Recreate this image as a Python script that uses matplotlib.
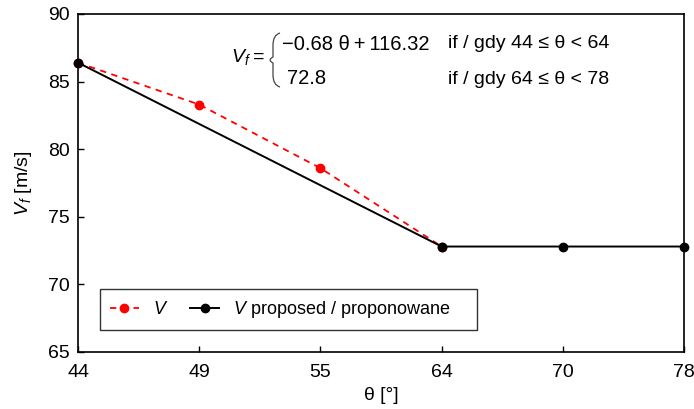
import matplotlib
matplotlib.use("Agg")
import matplotlib.pyplot as plt
from matplotlib.path import Path
from matplotlib.patches import PathPatch
import numpy as np

plt.rcParams['font.family'] = ['Liberation Sans', 'DejaVu Sans']
plt.rcParams['mathtext.fontset'] = 'custom'
plt.rcParams['mathtext.rm'] = 'Liberation Sans'
plt.rcParams['mathtext.it'] = 'Liberation Sans:italic'
plt.rcParams['font.size'] = 14

# data
theta_labels = ['44', '49', '55', '64', '70', '78']
v_idx = [0, 1, 2, 3]
v_vals = [86.4, 83.3, 78.6, 72.8]
vp_idx = [0, 3, 4, 5]
vp_vals = [86.4, 72.8, 72.8, 72.8]

W, H = 694, 409
fig = plt.figure(figsize=(W / 100, H / 100), dpi=100)
ax = fig.add_axes([0.1124, 0.1394, 0.8732, 0.8264])

ax.plot(v_idx, v_vals, color='red', linestyle=(0, (3.5, 3)), marker='o',
        markersize=6, linewidth=1.3, label='$\\it{V}$', clip_on=False, zorder=3)
ax.plot(vp_idx, vp_vals, '-', color='black', marker='o', markersize=6,
        linewidth=1.4, label='$\\it{V}$ proposed / proponowane    ',
        clip_on=False, zorder=4)

ax.set_xlim(0, 5)
ax.set_ylim(65, 90)
ax.set_xticks(range(len(theta_labels)))
ax.set_xticklabels(theta_labels)
ax.set_yticks(np.arange(65, 91, 5))
ax.tick_params(direction='in', length=4, width=1, labelsize=14)
ax.tick_params(axis='x', pad=9)
ax.tick_params(axis='y', pad=6)
for s in ax.spines.values():
    s.set_linewidth(1.2)

ax.set_xlabel('θ [°]', fontsize=14, labelpad=4)
ax.set_ylabel('$V_f$ [m/s]', fontsize=14, labelpad=10)

leg = ax.legend(loc='lower left', bbox_to_anchor=(0.036, 0.065), ncol=2,
                frameon=True, fancybox=False, edgecolor='black',
                fontsize=13, handlelength=1.6, columnspacing=1.2,
                borderpad=0.55, borderaxespad=0)
leg.get_frame().set_linewidth(1.0)

# equation
def fy(py):
    return 1 - py / H

fig.text(231 / W, fy(57), '$V_f$', fontsize=14, ha='left', va='center')
fig.text(253 / W, fy(57), '=', fontsize=14, ha='left', va='center')
fig.text(282 / W, fy(44), '\u22120.68 θ\u2009+\u2009116.32', fontsize=14.5,
         ha='left', va='center')
fig.text(287 / W, fy(79), '72.8', fontsize=14.5, ha='left', va='center')
fig.text(448 / W, fy(44), 'if / gdy 44 ≤ θ < 64', fontsize=14, ha='left', va='center')
fig.text(448 / W, fy(79), 'if / gdy 64 ≤ θ < 78', fontsize=14, ha='left', va='center')

# curly brace
bx = [280, 273, 273, 273, 267, 273, 273, 273, 280]
by = [33, 35, 45, 57, 60, 63, 75, 85, 87]
verts = [(x / W, fy(y)) for x, y in zip(bx, by)]
codes = [Path.MOVETO, Path.CURVE3, Path.CURVE3, Path.LINETO,
         Path.CURVE3, Path.CURVE3, Path.LINETO, Path.CURVE3, Path.CURVE3]
brace = PathPatch(Path(verts, codes), transform=fig.transFigure,
                  facecolor='none', edgecolor='#444444', linewidth=0.9)
fig.add_artist(brace)

fig.savefig('out.png', dpi=100)
